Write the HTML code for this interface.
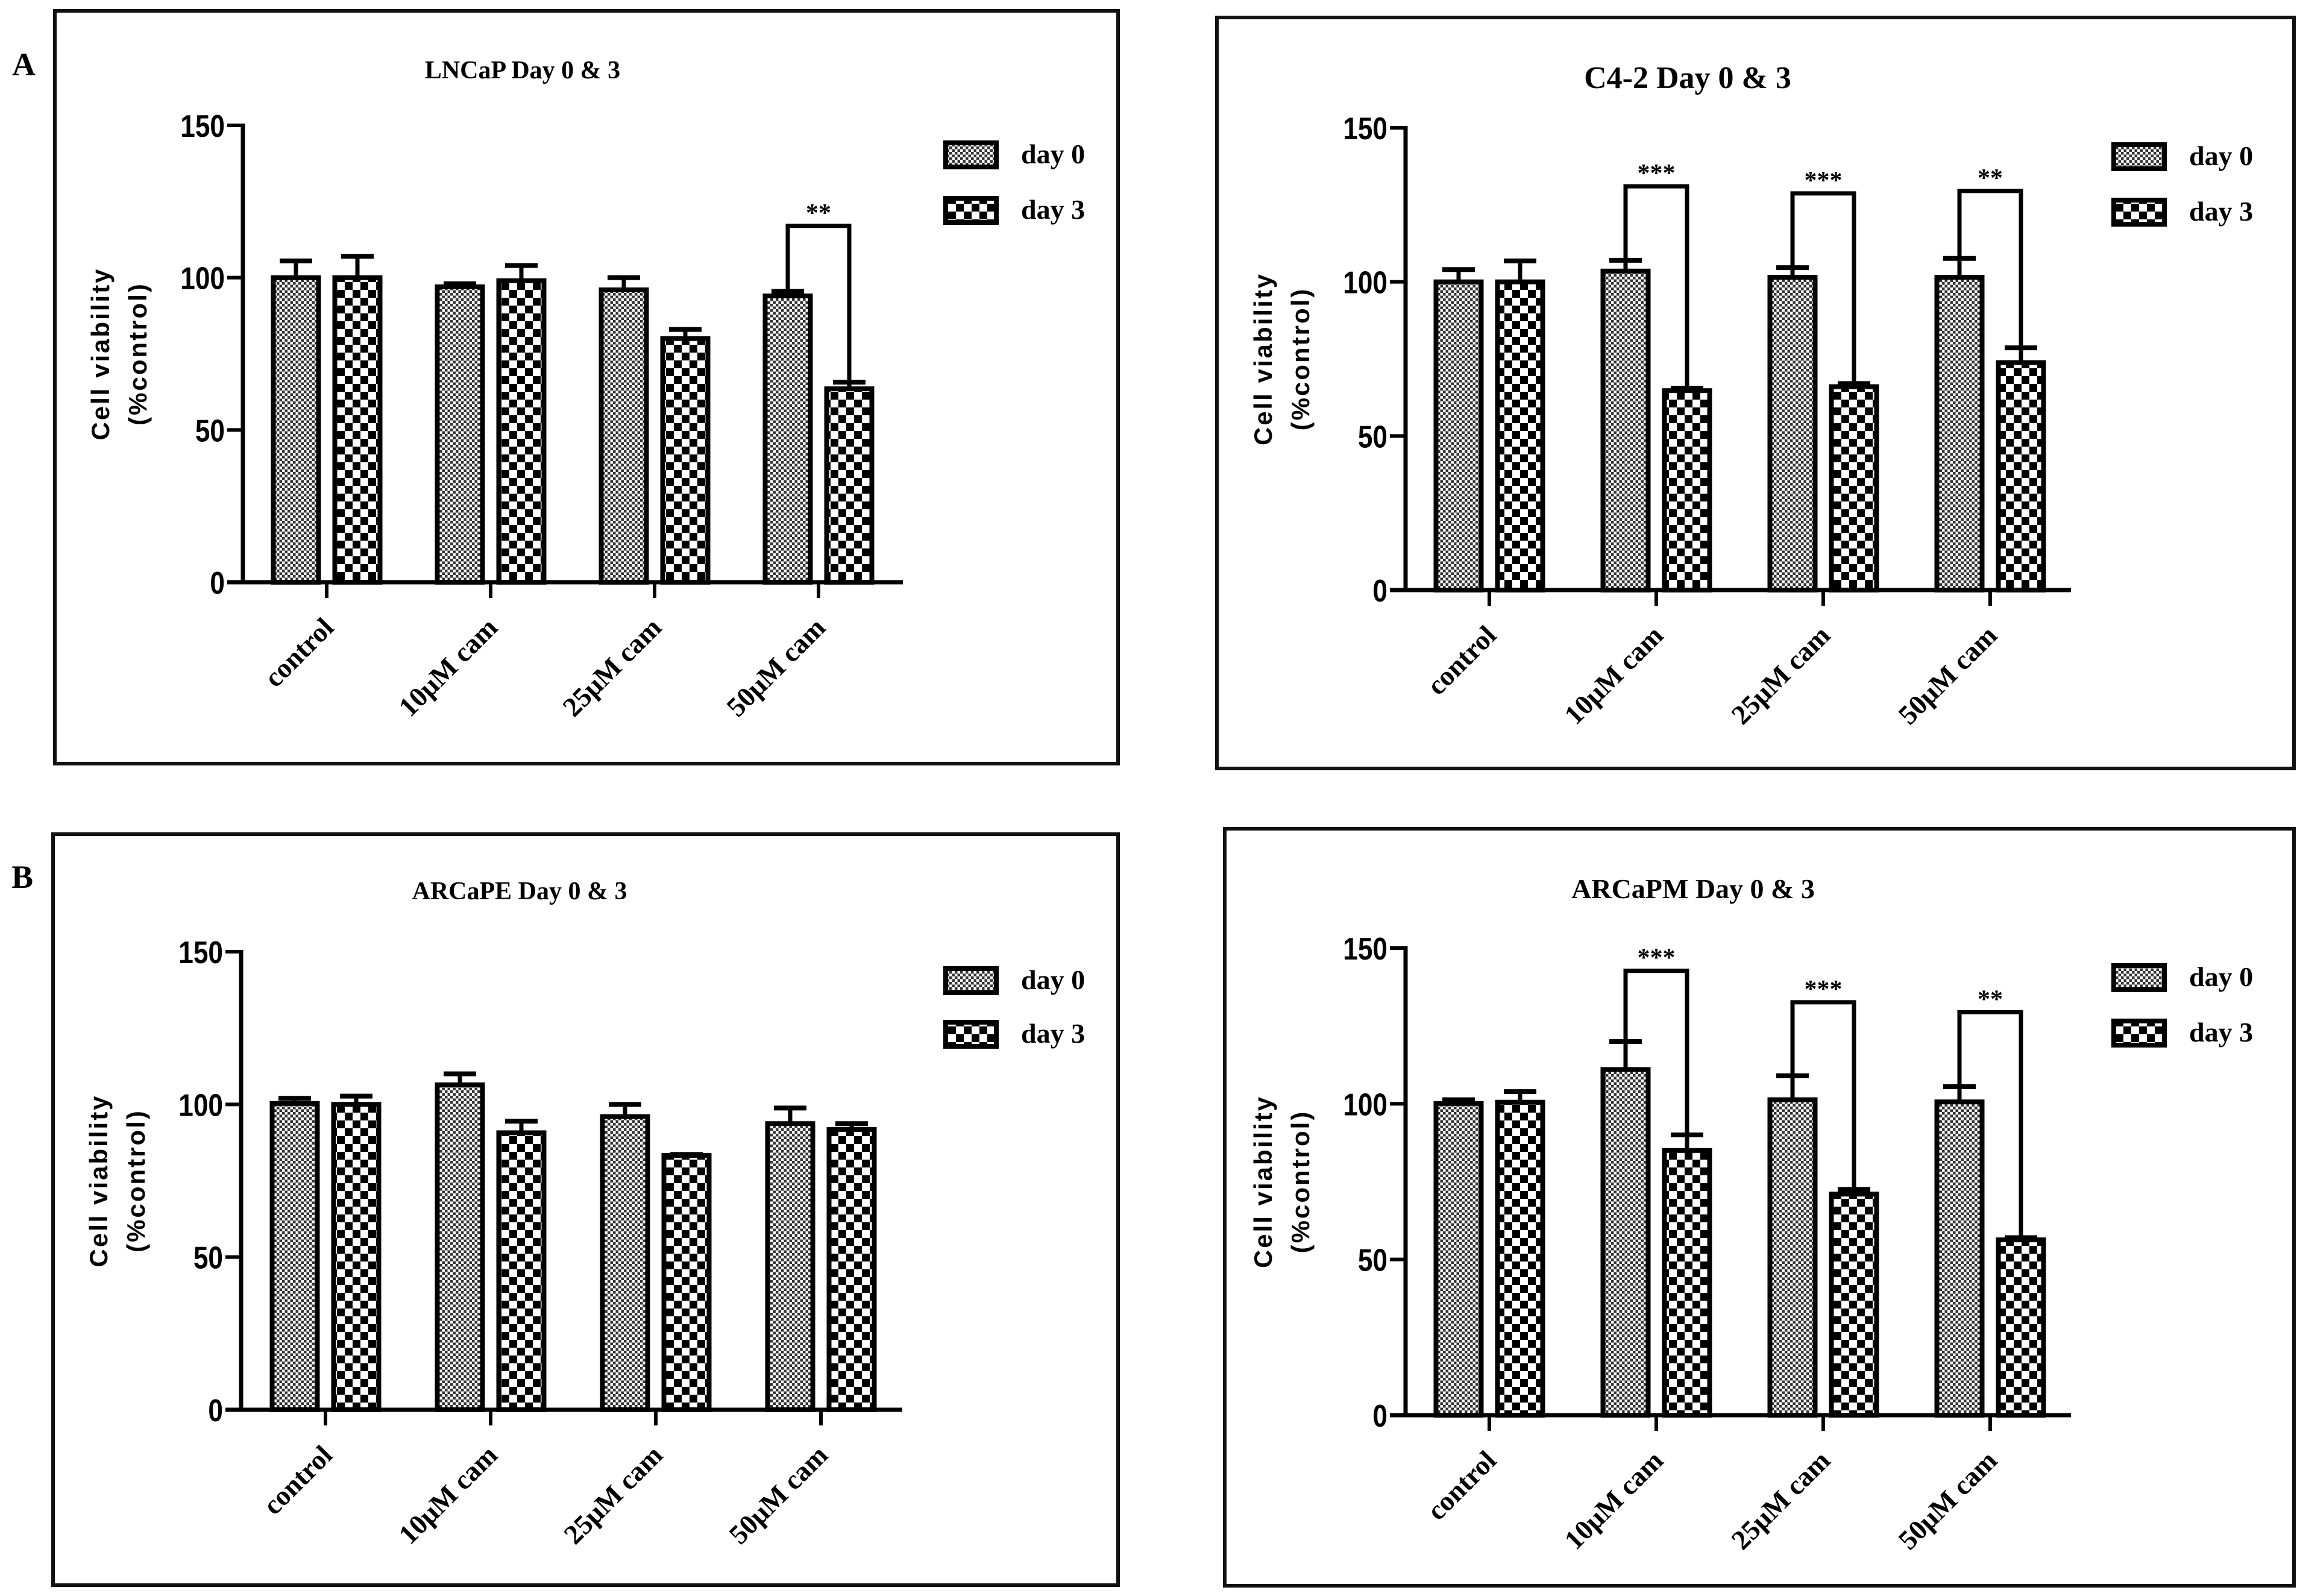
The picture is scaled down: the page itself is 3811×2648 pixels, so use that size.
<!DOCTYPE html>
<html><head><meta charset="utf-8"><style>
html,body{margin:0;padding:0;background:#fff;}
svg{display:block;}
</style></head><body>
<svg id="fig" xmlns="http://www.w3.org/2000/svg" width="3811" height="2648" viewBox="0 0 3811 2648">
<defs>
<pattern id="pFine" patternUnits="userSpaceOnUse" width="9" height="9">
<rect width="9" height="9" fill="#fff"/><rect width="4.5" height="4.5" fill="#333"/><rect x="4.5" y="4.5" width="4.5" height="4.5" fill="#333"/>
</pattern>
<pattern id="pCoarse" patternUnits="userSpaceOnUse" width="26" height="26">
<rect width="26" height="26" fill="#fff"/><rect width="13" height="13" fill="#000"/><rect x="13" y="13" width="13" height="13" fill="#000"/>
</pattern>
</defs>
<rect width="3811" height="2648" fill="#fff"/>
<g id="root"></g>
</svg>
<script>
const categories = ["control", "10\u03bcM cam", "25\u03bcM cam", "50\u03bcM cam"];
const seriesNames = ["day 0", "day 3"];
const yTicks = [0, 50, 100, 150];

const lncapDay0 = [100, 97, 96, 94];
const lncapDay0Err = [105.5, 98, 100, 95.5];
const lncapDay3 = [100, 99, 80, 63.5];
const lncapDay3Err = [107, 104, 83, 65.7];
const lncapSig = [null, null, null, "**"];
const lncapSigTop = [null, null, null, 117];

const c42Day0 = [100, 103.5, 101.5, 101.5];
const c42Day0Err = [104, 107, 104.6, 107.6];
const c42Day3 = [100, 64.7, 66, 73.8];
const c42Day3Err = [106.8, 65.5, 67, 78.6];
const c42Sig = [null, "***", "***", "**"];
const c42SigTop = [null, 131, 128.7, 129.5];

const arcpeDay0 = [100.3, 106.4, 96, 93.7];
const arcpeDay0Err = [102, 110, 100, 98.8];
const arcpeDay3 = [100, 90.7, 83.3, 91.8];
const arcpeDay3Err = [102.7, 94.5, 83.6, 93.7];
const arcpeSig = [null, null, null, null];
const arcpeSigTop = [null, null, null, null];

const arcpmDay0 = [100.1, 111, 101.3, 100.6];
const arcpmDay0Err = [101.3, 120, 109, 105.5];
const arcpmDay3 = [100.5, 85, 71, 56.3];
const arcpmDay3Err = [103.9, 90, 72.5, 57];
const arcpmSig = [null, "***", "***", "**"];
const arcpmSigTop = [null, 142.7, 132.6, 129.4];

const NS = "http://www.w3.org/2000/svg";
const root = document.getElementById("root");
function mk(tag, attrs, parent, txt) {
  const e = document.createElementNS(NS, tag);
  for (const k in attrs) e.setAttribute(k, attrs[k]);
  if (txt !== undefined) e.textContent = txt;
  (parent || root).appendChild(e);
  return e;
}

const panels = [
  {key:"lncap", title:"LNCaP Day 0 & 3", letter:"A", lx:20, ly:125, box:[91,18,1855,1267], ax:403, y0:966, y150:208, xEnd:1498, t0:542, dt:272, legX:1569, legY:[237,329], titleX:867, titleY:130, titleSize:42,
   d0:lncapDay0, e0:lncapDay0Err, d3:lncapDay3, e3:lncapDay3Err, sig:lncapSig, sigTop:lncapSigTop},
  {key:"c42", title:"C4-2 Day 0 & 3", letter:null, box:[2019,29,3806,1275], ax:2332, y0:979, y150:212, xEnd:3436, t0:2471, dt:277, legX:3507, legY:[240,332], titleX:2800, titleY:146, titleSize:52,
   d0:c42Day0, e0:c42Day0Err, d3:c42Day3, e3:c42Day3Err, sig:c42Sig, sigTop:c42SigTop},
  {key:"arcape", title:"ARCaPE Day 0 & 3", letter:"B", lx:19, ly:1473, box:[88,1384,1855,2630], ax:400, y0:2339, y150:1579, xEnd:1497, t0:540, dt:274, legX:1569, legY:[1607,1696], titleX:862, titleY:1492, titleSize:42,
   d0:arcpeDay0, e0:arcpeDay0Err, d3:arcpeDay3, e3:arcpeDay3Err, sig:arcpeSig, sigTop:arcpeSigTop},
  {key:"arcapm", title:"ARCaPM Day 0 & 3", letter:null, box:[2032,1375,3806,2631], ax:2332, y0:2348, y150:1573, xEnd:3436, t0:2471, dt:277, legX:3507, legY:[1602,1694], titleX:2809, titleY:1490, titleSize:46,
   d0:arcpmDay0, e0:arcpmDay0Err, d3:arcpmDay3, e3:arcpmDay3Err, sig:arcpmSig, sigTop:arcpmSigTop}
];

panels.forEach(p => {
  const g = mk("g", {});
  
  
  const yS = v => p.y0 - (v / 150) * (p.y0 - p.y150);
  const xS = i => p.t0 + i * p.dt;
  const [bx1, by1, bx2, by2] = p.box;
  const frame = mk("rect", {x:bx1, y:by1, width:bx2-bx1, height:by2-by1, fill:"none", stroke:"#111", "stroke-width":6}, g);
  
  
  if (p.letter) {
    const L = mk("text", {x:p.lx, y:p.ly, "font-family":"Liberation Serif, serif", "font-weight":"bold", "font-size":54}, g, p.letter);
    
    
  }
  const t = mk("text", {x:p.titleX, y:p.titleY, "text-anchor":"middle", "font-family":"Liberation Serif, serif", "font-weight":"bold", "font-size":p.titleSize}, g, p.title);
  
  

  const ya = mk("line", {x1:p.ax, y1:yS(150)-3, x2:p.ax, y2:p.y0+3, stroke:"#000", "stroke-width":7}, g);
  
  
  yTicks.forEach(v => {
    const y = yS(v);
    const tk = mk("line", {x1:p.ax-26, y1:y, x2:p.ax, y2:y, stroke:"#000", "stroke-width":6}, g);
    
    
    const tl = mk("text", {x:p.ax-30, y:y+19, "text-anchor":"end", "font-family":"Liberation Sans, sans-serif", "font-weight":"bold", "font-size":52, transform:"translate("+(p.ax-30)+",0) scale(0.85,1) translate("+(-(p.ax-30))+",0)"}, g, String(v));
    
    
  });
  const ymid = (p.y0 + p.y150) / 2;
  const yt1 = mk("text", {x:0, y:0, "text-anchor":"middle", "font-family":"Liberation Sans, sans-serif", "font-weight":"bold", "font-size":42, "letter-spacing":3, transform:"translate("+(p.ax-222)+","+ymid+") rotate(-90)"}, g, "Cell viability");
  
  
  const yt2 = mk("text", {x:0, y:0, "text-anchor":"middle", "font-family":"Liberation Sans, sans-serif", "font-weight":"bold", "font-size":42, "letter-spacing":3, transform:"translate("+(p.ax-160)+","+ymid+") rotate(-90)"}, g, "(%control)");
  
  

  const bw = 75, off = 51;
  categories.forEach((c, i) => {
    const cx = xS(i);
    [[p.d0, p.e0, "url(#pFine)", -off, 0], [p.d3, p.e3, "url(#pCoarse)", off, 1]].forEach(([vals, errs, fill, dx, s]) => {
      const x = cx + dx - bw/2;
      const top = yS(vals[i]);
      const el = mk("line", {x1:cx+dx, y1:top, x2:cx+dx, y2:yS(errs[i]), stroke:"#000", "stroke-width":7}, g);
      
      
      const cap = mk("line", {x1:cx+dx-27, y1:yS(errs[i]), x2:cx+dx+27, y2:yS(errs[i]), stroke:"#000", "stroke-width":8}, g);
      
      
      const r = mk("rect", {x:x, y:top, width:bw, height:p.y0-top, fill:fill, stroke:"#000", "stroke-width":8}, g);
      
      
    });
    if (p.sig[i]) {
      const yt = yS(p.sigTop[i]);
      const xl = cx - off, xr = cx + off;
      const br = mk("polyline", {points: xl+","+yS(p.e0[i])+" "+xl+","+yt+" "+xr+","+yt+" "+xr+","+yS(p.e3[i]), fill:"none", stroke:"#000", "stroke-width":7}, g);
      
      
      const st = mk("text", {x:cx, y:yt-8, "text-anchor":"middle", "font-family":"Liberation Serif, serif", "font-weight":"bold", "font-size":42}, g, p.sig[i]);
      
      
    }
    const xt = mk("line", {x1:cx, y1:p.y0, x2:cx, y2:p.y0+26, stroke:"#000", "stroke-width":6}, g);
    
    
    const xl = mk("text", {x:0, y:0, "text-anchor":"end", "font-family":"Liberation Serif, serif", "font-weight":"bold", "font-size":46, transform:"translate("+(cx+14)+","+(p.y0+78)+") rotate(-45)"}, g, c);
    
    
  });
  const xa = mk("line", {x1:p.ax-26, y1:p.y0, x2:p.xEnd, y2:p.y0, stroke:"#000", "stroke-width":7}, g);
  
  

  seriesNames.forEach((n, k) => {
    const ly = p.legY[k];
    const sw = mk("rect", {x:p.legX, y:ly, width:84, height:40, fill: k ? "url(#pCoarse)" : "url(#pFine)", stroke:"#000", "stroke-width":8}, g);
    
    
    const lt = mk("text", {x:p.legX+125, y:ly+34, "font-family":"Liberation Serif, serif", "font-weight":"bold", "font-size":46}, g, n);
    
    
  });
});
</script>
</body></html>
